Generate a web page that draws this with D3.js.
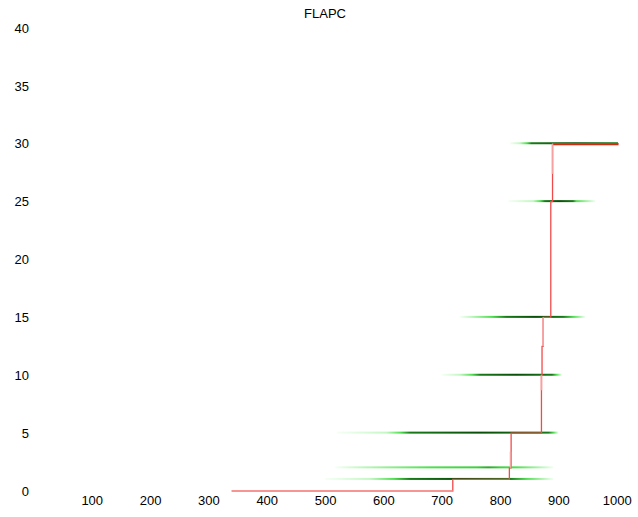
<!DOCTYPE html>
<html>
<head>
<meta charset="utf-8">
<script src="https://cdn.jsdelivr.net/npm/d3@7"></script>
<style>
  html, body { margin: 0; padding: 0; background: #fff; }
  svg { display: block; }
  text { font-family: "Liberation Sans", Arial, sans-serif; fill: #000; }
</style>
</head>
<body>
<svg id="chart" width="638" height="517"></svg>
<script>
// ---- data ----
const title = "FLAPC";
const xTicks = [100, 200, 300, 400, 500, 600, 700, 800, 900, 1000];
const yTicks = [0, 5, 10, 15, 20, 25, 30, 35, 40];

// green point bands: level, min, bright start, dark start, dark end, bright end, max
const bandLevel  = [1,   2,   5,   10,  15,  25,  30];
const bandMin    = [500, 517, 520, 700, 731, 814, 817];
const bandBright1= [577, 560, 605, 731, 749, 857, 834];
const bandDark1  = [646, 760, 646, 766, 811, 877, 854];
const bandDark2  = [817, 800, 883, 889, 908, 925, 1003];
const bandBright2= [846, 830, 892, 897, 926, 931, 1003];
const bandMax    = [891, 891, 900, 906, 946, 963, 1003];

// red step path
const stepX = [340, 719, 719, 816, 816, 819, 819, 871, 871, 872, 872, 874, 874, 887, 887, 890, 890, 1003];
const stepY = [0,   0,   1,   1,   2,   2,   5,   5,   10,  10,  12.5,12.5,15,  15,  25,  25,  30,  30];

// faint (pink) segments of the step path
const faintX1 = [340, 818, 871, 874, 890];
const faintY1 = [0,   2,   8.7, 12.5, 27.4];
const faintX2 = [719, 818, 871, 874, 890];
const faintY2 = [0,   3.4, 10,  15,  30];

// ---- drawing ----
const svg = d3.select("#chart");
const x = d3.scaleLinear().domain([0, 1000]).range([33.4, 616.7]);
const y = d3.scaleLinear().domain([0, 40]).range([491, 28]);

svg.append("text")
  .attr("x", 325).attr("y", 18)
  .attr("text-anchor", "middle")
  .attr("font-size", 13)
  .text(title);

const xAxis = svg.append("g")
  .attr("transform", "translate(0,496)")
  .call(d3.axisBottom(x).tickValues(xTicks).tickSize(0).tickPadding(0).tickFormat(d3.format("d")));
xAxis.select(".domain").remove();
xAxis.selectAll("text").attr("font-size", 13).attr("font-family", "Liberation Sans, Arial, sans-serif").attr("fill", "#000").attr("dy", "0.71em");

const yAxis = svg.append("g")
  .attr("transform", "translate(29,0)")
  .call(d3.axisLeft(y).tickValues(yTicks).tickSize(0).tickPadding(0).tickFormat(d3.format("d")));
yAxis.select(".domain").remove();
yAxis.selectAll("text").attr("font-size", 13).attr("font-family", "Liberation Sans, Arial, sans-serif").attr("fill", "#000");

// gradients for bands
const defs = svg.append("defs");
const bands = bandLevel.map((lv, i) => ({
  lv, min: bandMin[i], b1: bandBright1[i], d1: bandDark1[i],
  d2: bandDark2[i], b2: bandBright2[i], max: bandMax[i]
}));
bands.forEach((b, i) => {
  const span = Math.max(1, b.max - b.min);
  const off = v => Math.max(0, Math.min(1, (v - b.min) / span));
  const g = defs.append("linearGradient").attr("id", "band" + i)
    .attr("x1", "0").attr("x2", "1").attr("y1", "0").attr("y2", "0");
  const light = b.lv === 2;
  const stops = [
    [0, "#f6fff6"],
    [off(b.b1), "#c4f7c4"],
    [off(b.b1) + (off(b.d1) - off(b.b1)) * 0.6, "#4fe04f"],
    [off(b.d1), light ? "#3fd03f" : "#197a19"],
    [off(b.d1) + (off(b.d2) - off(b.d1)) * 0.5, light ? "#2fa82f" : "#0a4d0a"],
    [off(b.d2), light ? "#3fd03f" : "#197a19"],
    [off(b.b2), "#55e055"],
    [1, "#f0fff0"]
  ];
  stops.forEach(s => g.append("stop").attr("offset", s[0]).attr("stop-color", s[1]));
});

svg.append("g").selectAll("rect")
  .data(bands)
  .join("rect")
  .attr("x", d => x(d.min))
  .attr("width", d => x(d.max) - x(d.min))
  .attr("y", d => y(d.lv) - 1.5)
  .attr("height", 2)
  .attr("fill", (d, i) => `url(#band${i})`);

// red step line
const pts = stepX.map((v, i) => [x(v), y(stepY[i])]);
svg.append("path")
  .attr("d", d3.line()(pts))
  .attr("fill", "none")
  .attr("stroke", "#f24a4a")
  .attr("stroke-width", 1.3);

// darker top segment at level 30
svg.append("line")
  .attr("x1", x(890)).attr("x2", x(1003))
  .attr("y1", y(30) + 0.5).attr("y2", y(30) + 0.5)
  .attr("stroke", "#d42a10").attr("stroke-width", 2);

// faint segments
svg.append("g").selectAll("line")
  .data(faintX1.map((v, i) => ({ x1: v, y1: faintY1[i], x2: faintX2[i], y2: faintY2[i] })))
  .join("line")
  .attr("x1", d => x(d.x1)).attr("y1", d => y(d.y1))
  .attr("x2", d => x(d.x2)).attr("y2", d => y(d.y2))
  .attr("stroke", "#f7a0a0")
  .attr("stroke-width", 1.6);
</script>
</body>
</html>
